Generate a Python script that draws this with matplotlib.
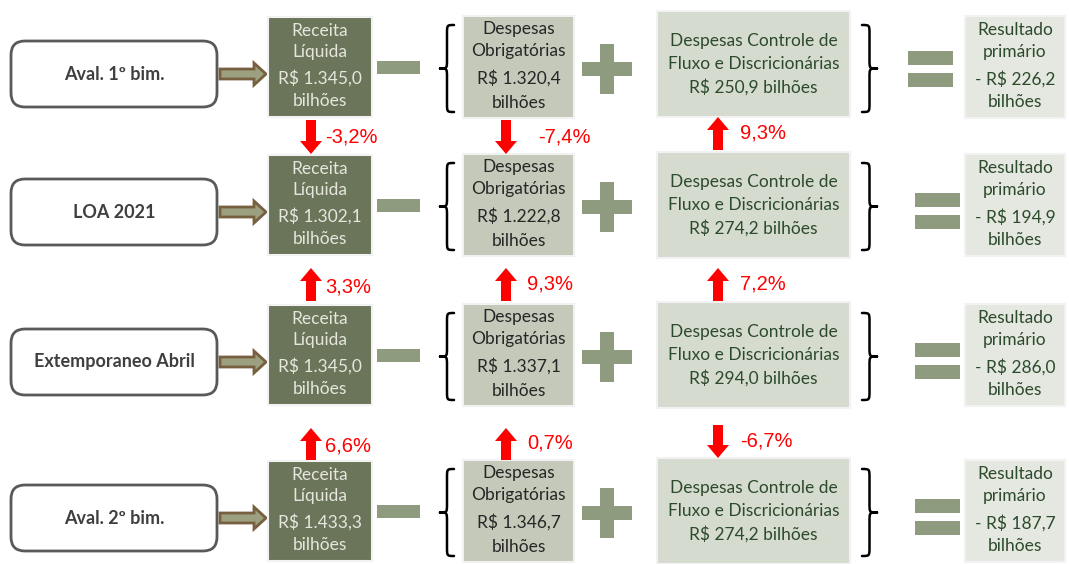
import matplotlib
matplotlib.use("Agg")
import matplotlib.pyplot as plt
from matplotlib.patches import FancyBboxPatch, Rectangle, Polygon, PathPatch
from matplotlib.path import Path

# ---------------- data ----------------
row_labels = ["Aval. 1º bim.", "LOA 2021", "Extemporaneo Abril", "Aval. 2º bim."]
receita = ["1.345,0", "1.302,1", "1.345,0", "1.433,3"]
obrigatorias = ["1.320,4", "1.222,8", "1.337,1", "1.346,7"]
controle = ["250,9", "274,2", "294,0", "274,2"]
resultado = ["226,2", "194,9", "286,0", "187,7"]
# changes between consecutive rows
var_receita = ["-3,2%", "3,3%", "6,6%"]
var_obrig = ["-7,4%", "9,3%", "0,7%"]
var_controle = ["9,3%", "7,2%", "-6,7%"]
dir_receita = ["down", "up", "up"]
dir_obrig = ["down", "up", "up"]
dir_controle = ["up", "up", "down"]

# ---------------- layout ----------------
W, H = 1069, 564
fig = plt.figure(figsize=(W / 100, H / 100), dpi=100)
ax = fig.add_axes([0, 0, 1, 1])
ax.set_xlim(0, W)
ax.set_ylim(H, 0)
ax.axis("off")

FONT = ["Lato", "DejaVu Sans"]
row_c = [67, 205, 355, 511]

c_receita = "#6a7559"
c_obrig = "#c4c9b9"
c_ctrl = "#d6dbd0"
c_res = "#e5e8e0"
c_sym = "#8e9b7e"
c_txt_light = "#e6e6de"
c_txt_dark = "#262626"
c_txt_green = "#2c4a2c"
c_red = "#ff0000"


def box(x0, x1, y0, y1, fc):
    ax.add_patch(Rectangle((x0, y0), x1 - x0, y1 - y0, fc=fc, ec="#f2f2f2", lw=1.5))


def lines(xc, yc, offs, texts, color, size=12.5, weight="normal"):
    for o, t in zip(offs, texts):
        ax.text(xc, yc + o, t, ha="center", va="center", color=color,
                fontsize=size, family=FONT, fontweight=weight)


def brace(x, y0, y1, w, left=True, lw=1.8):
    ym = (y0 + y1) / 2
    r = 9
    if left:
        xe, xm, xt = x + w, x + w / 2, x
    else:
        xe, xm, xt = x, x + w / 2, x + w
    verts = [(xe, y0), (xm, y0), (xm, y0), (xm, y0 + r),
             (xm, ym - r), (xm, ym), (xm, ym), (xt, ym),
             (xm, ym), (xm, ym), (xm, ym + r),
             (xm, y1 - r), (xm, y1), (xm, y1), (xe, y1)]
    codes = [Path.MOVETO, Path.CURVE4, Path.CURVE4, Path.CURVE4,
             Path.LINETO, Path.CURVE4, Path.CURVE4, Path.CURVE4,
             Path.CURVE4, Path.CURVE4, Path.CURVE4,
             Path.LINETO, Path.CURVE4, Path.CURVE4, Path.CURVE4]
    ax.add_patch(PathPatch(Path(verts, codes), fc="none", ec="black", lw=lw,
                           capstyle="round", joinstyle="round"))


def vert_arrow(xc, y_tail, y_head, color=c_red, sw=10, hw=22, hl=13):
    s = 1 if y_head > y_tail else -1
    yb = y_head - s * hl
    pts = [(xc - sw / 2, y_tail), (xc + sw / 2, y_tail), (xc + sw / 2, yb),
           (xc + hw / 2, yb), (xc, y_head), (xc - hw / 2, yb), (xc - sw / 2, yb)]
    ax.add_patch(Polygon(pts, closed=True, fc=color, ec="none"))


def horiz_arrow(x_tail, x_head, yc, sw=10, hw=22, hl=12):
    xb = x_head - hl
    pts = [(x_tail, yc - sw / 2), (xb, yc - sw / 2), (xb, yc - hw / 2),
           (x_head, yc), (xb, yc + hw / 2), (xb, yc + sw / 2), (x_tail, yc + sw / 2)]
    ax.add_patch(Polygon(pts, closed=True, fc="#9c9f80", ec="#76603f", lw=2.0,
                         joinstyle="miter"))


for i, yc in enumerate(row_c):
    # label rounded box
    ly = yc + 7
    ax.add_patch(FancyBboxPatch((11, ly - 33), 206, 66,
                                boxstyle="round,pad=0,rounding_size=14",
                                fc="white", ec="#595959", lw=2))
    ax.text(114, ly, row_labels[i], ha="center", va="center", color="#3f3f3f",
            fontsize=13, fontweight="bold", family=FONT)
    horiz_arrow(220, 266, ly)

    # receita
    box(268, 372, yc - 50, yc + 50, c_receita)
    lines(320, yc, [-36, -15, 11, 34],
          ["Receita", "Líquida", "R$ " + receita[i], "bilhões"], c_txt_light)

    # minus
    ax.add_patch(Rectangle((377, yc - 6.5), 43, 13, fc=c_sym, ec="none"))

    # left brace
    brace(440, yc - 42, yc + 45, 14, left=True)

    # obrigatorias
    box(463, 574, yc - 51, yc + 51, c_obrig)
    lines(518.5, yc, [-38, -16, 11, 36],
          ["Despesas", "Obrigatórias", "R$ " + obrigatorias[i], "bilhões"], c_txt_dark)

    # plus
    pc = yc + 2
    ax.add_patch(Rectangle((582, pc - 7), 50, 14, fc=c_sym, ec="none"))
    ax.add_patch(Rectangle((600, pc - 25), 14, 50, fc=c_sym, ec="none"))

    # controle
    cc = yc - 3 if i == 0 else yc
    box(657, 850, cc - 53, cc + 53, c_ctrl)
    lines(753.5, cc, [-23, 0, 23],
          ["Despesas Controle de", "Fluxo e Discricionárias",
           "R$ " + controle[i] + " bilhões"], c_txt_green)

    # right brace
    brace(862, yc - 42, yc + 45, 15, left=False)

    # equals
    ec_ = yc + 2 if i == 0 else yc + 6
    ex0 = 908 if i == 0 else 915
    ax.add_patch(Rectangle((ex0, ec_ - 18), 45, 14, fc=c_sym, ec="none"))
    ax.add_patch(Rectangle((ex0, ec_ + 4), 45, 14, fc=c_sym, ec="none"))

    # resultado
    box(965, 1065, yc - 51, yc + 51, c_res)
    lines(1015, yc, [-37, -15, 12, 35],
          ["Resultado", "primário", "- R$ " + resultado[i], "bilhões"], c_txt_green)


def var_arrow(xc, gap_top, gap_bot, direction, label, tx, ty):
    if direction == "down":
        vert_arrow(xc, gap_top, gap_bot)
    else:
        vert_arrow(xc, gap_bot, gap_top)
    ax.text(tx, ty, label, ha="left", va="center", color=c_red, fontsize=14.5,
            family=["Liberation Sans", "DejaVu Sans"])


gaps = [(120, 154), (268, 301), (428, 460)]
txt_y_rec = [137, 287, 446]
txt_y_obr = [137, 284, 443]
txt_y_ctl = [133, 284, 441]
for k, (g0, g1) in enumerate(gaps):
    var_arrow(311, g0, g1, dir_receita[k], var_receita[k], 325, txt_y_rec[k])
    var_arrow(506, g0, g1, dir_obrig[k], var_obrig[k],
              538 if var_obrig[k].startswith("-") else 527, txt_y_obr[k])
    cg0 = g0 - 3 if k == 0 else g0
    cg1 = g1 - 4 if k == 0 else g1
    if k == 2:
        cg0, cg1 = g0 - 3, g1 - 2
    var_arrow(718, cg0, cg1, dir_controle[k], var_controle[k], 740, txt_y_ctl[k])

fig.savefig("out.png", dpi=100)
